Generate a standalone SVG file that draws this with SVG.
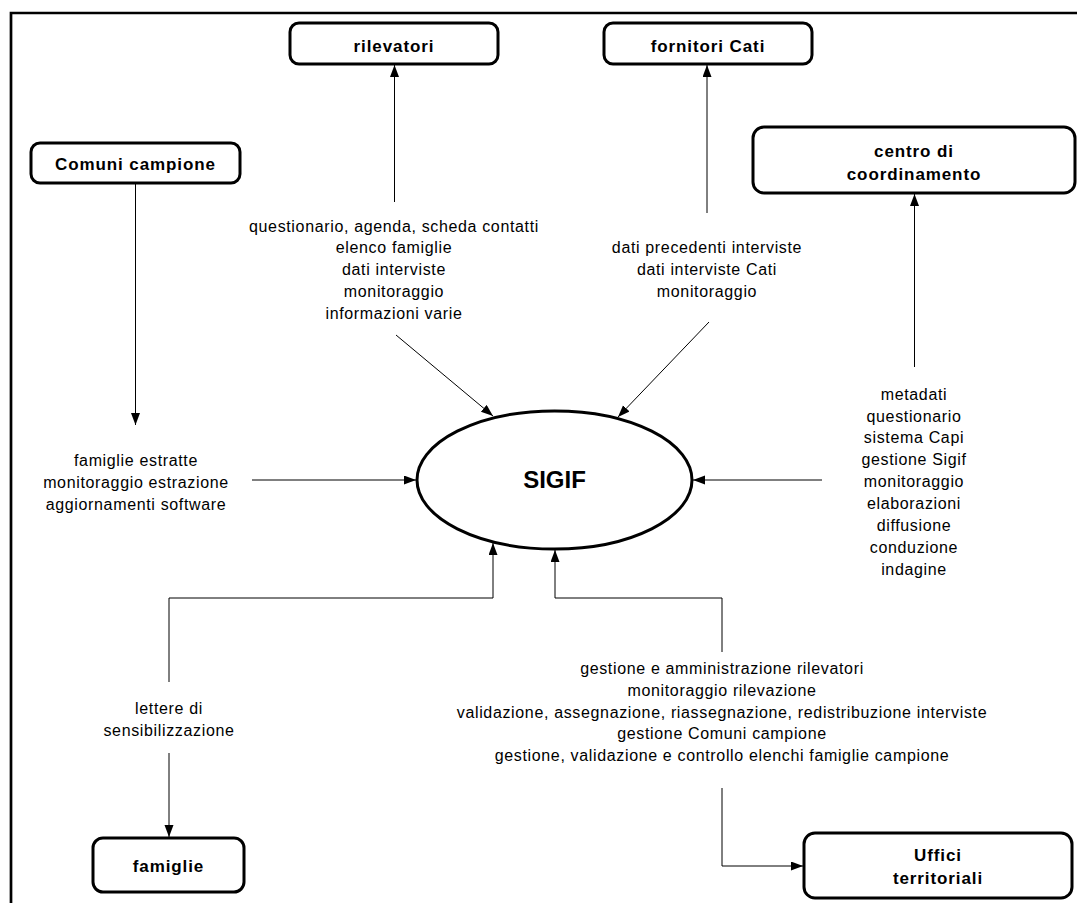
<svg xmlns="http://www.w3.org/2000/svg" width="1077" height="903" viewBox="0 0 1077 903">
  <style>
    .box { fill: #fff; stroke: #000; stroke-width: 3; }
    .title { font-family: "Liberation Sans", Arial, sans-serif; font-size: 17px; font-weight: bold; letter-spacing: 0.9px; text-anchor: middle; fill: #000; }
    .label { font-family: "Liberation Sans", Arial, sans-serif; font-size: 16px; letter-spacing: 0.65px; text-anchor: middle; fill: #000; }
    .flow { fill: none; stroke: #000; stroke-width: 1; marker-end: url(#arrow); }
  </style>
  <defs>
    <marker id="arrow" markerUnits="userSpaceOnUse" markerWidth="12" markerHeight="10" refX="12" refY="4.5" orient="auto">
      <path d="M0,0 L12,4.5 L0,9 Z" fill="#000"/>
    </marker>
  </defs>

  <rect width="1077" height="903" fill="#fff"/>
  <!-- outer frame -->
  <path d="M11,903 V13 H1090" fill="none" stroke="#000" stroke-width="2.7"/>

  <!-- connectors -->
  <g id="connectors">
    <line class="flow" x1="135.5" y1="183" x2="135.5" y2="425"/>
    <line class="flow" x1="252" y1="480" x2="416" y2="480"/>
    <line class="flow" x1="394.5" y1="202" x2="394.5" y2="65"/>
    <line class="flow" x1="396" y1="335" x2="493" y2="416"/>
    <line class="flow" x1="707" y1="213" x2="707" y2="65"/>
    <line class="flow" x1="709" y1="322" x2="618" y2="417"/>
    <line class="flow" x1="914.5" y1="367" x2="914.5" y2="194"/>
    <line class="flow" x1="822" y1="480" x2="693" y2="480"/>
    <polyline class="flow" points="169,682 169,598 493,598 493,543"/>
    <line class="flow" x1="169" y1="753" x2="169" y2="837"/>
    <polyline class="flow" points="722,652 722,598 555,598 555,550"/>
    <polyline class="flow" points="722,788 722,866 803,866"/>
  </g>

  <!-- external entities -->
  <g id="rilevatori">
    <rect class="box" x="290" y="23" width="208" height="41" rx="9"/>
    <text class="title" x="394" y="52">rilevatori</text>
  </g>
  <g id="fornitori-cati">
    <rect class="box" x="604" y="23" width="208" height="41" rx="9"/>
    <text class="title" x="708" y="52">fornitori Cati</text>
  </g>
  <g id="comuni-campione">
    <rect class="box" x="31" y="143" width="209" height="40" rx="9"/>
    <text class="title" x="135.5" y="169.5">Comuni campione</text>
  </g>
  <g id="centro-coordinamento">
    <rect class="box" x="753" y="127" width="322" height="66" rx="11"/>
    <text class="title" x="914" y="156.5">centro di</text>
    <text class="title" x="914" y="180">coordinamento</text>
  </g>
  <g id="famiglie">
    <rect class="box" x="93" y="838" width="151" height="54" rx="10"/>
    <text class="title" x="168.5" y="872">famiglie</text>
  </g>
  <g id="uffici-territoriali">
    <rect class="box" x="804" y="833" width="268" height="65" rx="11"/>
    <text class="title" x="938" y="860.5">Uffici</text>
    <text class="title" x="938" y="884">territoriali</text>
  </g>

  <!-- central process -->
  <g id="sigif">
    <ellipse cx="554.5" cy="480" rx="137.5" ry="69" fill="#fff" stroke="#000" stroke-width="3"/>
    <text x="554.5" y="488" font-family="Liberation Sans, Arial, sans-serif" font-size="24" font-weight="bold" text-anchor="middle">SIGIF</text>
  </g>

  <!-- flow labels -->
  <g id="labels">
    <text class="label" x="394" y="231.5">questionario, agenda, scheda contatti</text>
    <text class="label" x="394" y="253">elenco famiglie</text>
    <text class="label" x="394" y="275">dati interviste</text>
    <text class="label" x="394" y="297">monitoraggio</text>
    <text class="label" x="394" y="319">informazioni varie</text>

    <text class="label" x="707" y="253">dati precedenti interviste</text>
    <text class="label" x="707" y="275">dati interviste Cati</text>
    <text class="label" x="707" y="297">monitoraggio</text>

    <text class="label" x="136" y="465.5">famiglie estratte</text>
    <text class="label" x="136" y="487.5">monitoraggio estrazione</text>
    <text class="label" x="136" y="509.5">aggiornamenti software</text>

    <text class="label" x="914" y="399.5">metadati</text>
    <text class="label" x="914" y="421.5">questionario</text>
    <text class="label" x="914" y="443">sistema Capi</text>
    <text class="label" x="914" y="465">gestione Sigif</text>
    <text class="label" x="914" y="487">monitoraggio</text>
    <text class="label" x="914" y="509">elaborazioni</text>
    <text class="label" x="914" y="531">diffusione</text>
    <text class="label" x="914" y="553">conduzione</text>
    <text class="label" x="914" y="575">indagine</text>

    <text class="label" x="169" y="713.5">lettere di</text>
    <text class="label" x="169" y="736">sensibilizzazione</text>

    <text class="label" x="722" y="674">gestione e amministrazione rilevatori</text>
    <text class="label" x="722" y="696">monitoraggio rilevazione</text>
    <text class="label" x="722" y="717.5">validazione, assegnazione, riassegnazione, redistribuzione interviste</text>
    <text class="label" x="722" y="739">gestione Comuni campione</text>
    <text class="label" x="722" y="761">gestione, validazione e controllo elenchi famiglie campione</text>
  </g>
</svg>
